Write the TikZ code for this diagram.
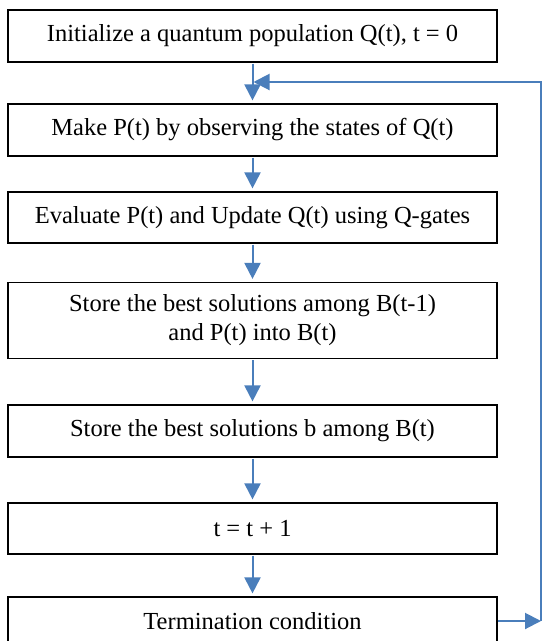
\documentclass[tikz,border=0pt]{standalone}
\usepackage{fontspec}
\setmainfont{Liberation Serif}
\usetikzlibrary{arrows.meta}
\definecolor{kblue}{RGB}{74,126,187}
\begin{document}
\begin{tikzpicture}[x=1pt,y=1pt,
kbox/.style={draw,line width=1.2pt,minimum width=489pt,inner sep=2pt,align=center,font=\fontsize{24.5}{29}\selectfont},
kflow/.style={draw=kblue,line width=2pt,-{Stealth[inset=0pt,length=16pt,width=16pt]}}]
\clip(0,0)rectangle(544,-641);
\pgfmathsetmacro{\kxc}{252.5}
\foreach \k/\ky/\kh/\txt in {1/36/52/{Initialize a quantum population Q(t), t = 0},2/130/52/{Make P(t) by observing the states of Q(t)},3/217.5/51/{Evaluate P(t) and Update Q(t) using Q-gates},4/320.5/76/{Store the best solutions among B(t-1)\\and P(t) into B(t)},5/431/52/{Store the best solutions b among B(t)},6/528.5/51/{t = t + 1},7/621/48/{Termination condition}}{\node[kbox,minimum height=\kh pt](b\k)at(\kxc,-\ky){\txt};}
\foreach \ka/\kb in {1/2,2/3,3/4,4/5,5/6,6/7}{\draw[kflow,shorten <=1pt,shorten >=3pt](b\ka.south)--(b\kb.north);}
\coordinate(kin)at(\kxc+1,-82);
\coordinate(kout)at(541,-621);
\draw[kflow](b7.east)--(kout);
\draw[kflow](kout)|-(kin);
\end{tikzpicture}
\end{document}
